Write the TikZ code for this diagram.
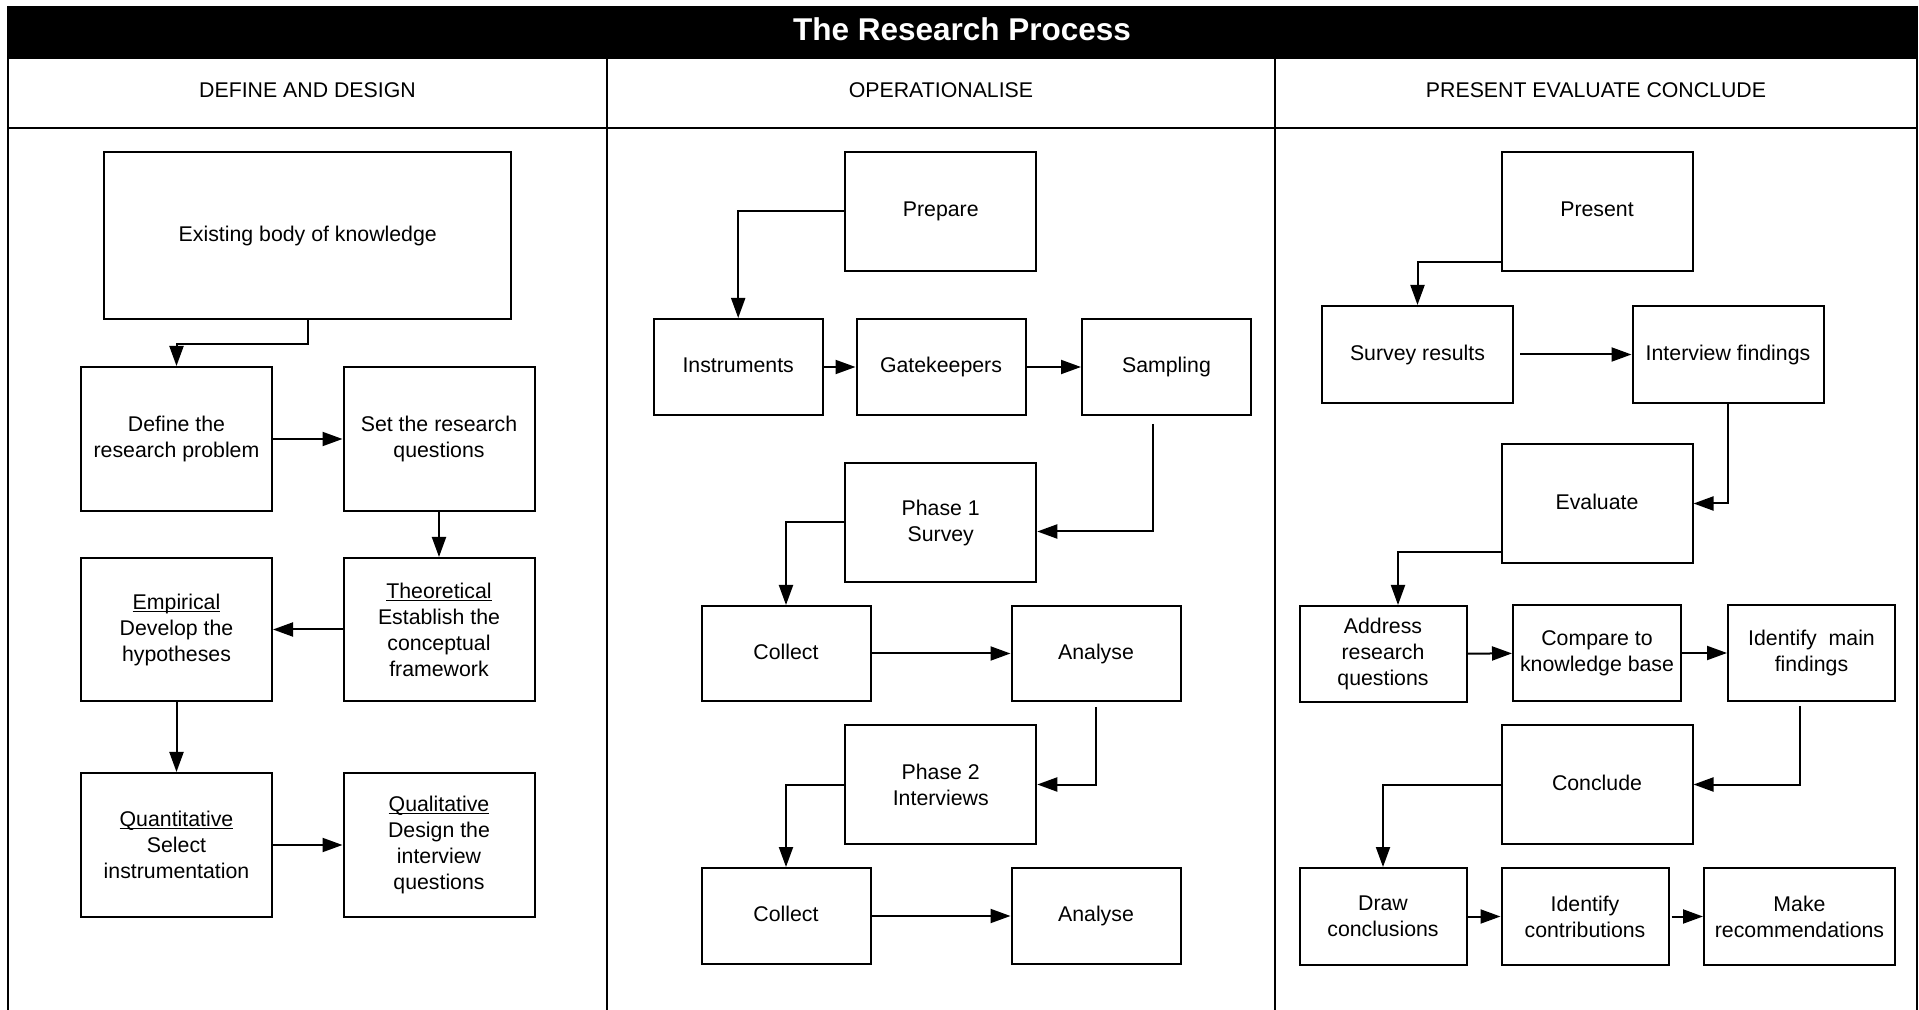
\documentclass[tikz,border=0pt]{standalone}
\usepackage{fontspec}
\setmainfont{Liberation Sans}
\usetikzlibrary{arrows.meta,calc}
\newcommand{\boxFont}[0]{\fontsize{10.65pt}{13pt}\selectfont}
\newcommand{\titleFont}[0]{\bfseries\fontsize{15.75pt}{18pt}\selectfont}
\newcommand{\uText}[1]{{\setbox0\hbox{#1}\rlap{\rule[-1.3pt]{\wd0}{0.55pt}}\box0}}
\newcommand{\gDepth}[0]{\vphantom{g}}

\begin{document}
\begin{tikzpicture}[x=0.5pt, y=-0.5pt]
  \tikzset{
    every node/.style={align=center, font=\boxFont},
    stage/.style 2 args={draw, line width=1pt, rectangle, inner sep=0pt,
      minimum width=#1*0.5pt, minimum height=#2*0.5pt},
    flow/.style={-{Triangle[length=10pt,width=7pt]}, line width=1pt}
  }
  \useasboundingbox (0,0) rectangle (1919,1010);
  \fill (8,6) rectangle (1917,59);
  \draw[line width=1pt] (8,6) -- (8,1010) (1917,6) -- (1917,1010)
    (8,128) -- (1917,128) (607,59) -- (607,1010) (1275,59) -- (1275,1010);
  \node[text=white, font=\titleFont] (title) at (962,29) {The Research Process};
  \node (head-1) at (307.5,90) {DEFINE AND DESIGN};
  \node (head-2) at (941,90) {OPERATIONALISE};
  \node (head-3) at (1596,90) {PRESENT EVALUATE CONCLUDE};

  \node[stage={407}{167}] (DD-exist) at (307.75,235.5) {Existing body of knowledge};
  \node[stage={191}{144}] (DD-define) at (176.5,439) {Define the\\research problem};
  \node[stage={191}{144}] (DD-set) at (439,439) {Set the research\\questions};
  \node[stage={191}{143}] (DD-emp) at (176.5,629.5) {\uText{Empirical}\\Develop the\\hypotheses};
  \node[stage={191}{143}] (DD-theo) at (439,629.5) {\uText{Theoretical}\\Establish the\\conceptual\\framework};
  \node[stage={191}{144}] (DD-quant) at (176.5,845) {\uText{Quantitative}\\Select\\instrumentation};
  \node[stage={191}{144}] (DD-qual) at (439,845) {\uText{Qualitative}\\Design the\\interview\\questions};

  \node[stage={191}{119}] (OP-prep) at (940.75,211.5) {Prepare};
  \node[stage={169}{96}] (OP-instr) at (738.2,367) {Instruments\gDepth};
  \node[stage={169}{96}] (OP-gate) at (941,367) {Gatekeepers};
  \node[stage={169}{96}] (OP-samp) at (1166.5,367) {Sampling};
  \node[stage={191}{119}] (OP-ph1) at (940.75,522.5) {Phase 1\\Survey};
  \node[stage={169}{95}] (OP-coll1) at (786,653.5) {Collect\gDepth};
  \node[stage={169}{95}] (OP-anal1) at (1096,653.5) {Analyse};
  \node[stage={191}{119}] (OP-ph2) at (940.75,784.5) {Phase 2\\Interviews};
  \node[stage={169}{96}] (OP-coll2) at (786,916) {Collect\gDepth};
  \node[stage={169}{96}] (OP-anal2) at (1096,916) {Analyse};

  \node[stage={191}{119}] (PE-pres) at (1597,211.5) {Present\gDepth};
  \node[stage={191}{97}] (PE-surv) at (1417.5,354.5) {Survey results};
  \node[stage={191}{97}] (PE-int) at (1728,354.5) {Interview findings};
  \node[stage={191}{119}] (PE-eval) at (1597,503.5) {Evaluate\gDepth};
  \node[stage={167}{96}] (PE-addr) at (1383,654) {Address\\research\\questions};
  \node[stage={168}{96}] (PE-comp) at (1597,653) {Compare to\\knowledge base};
  \node[stage={167}{96}] (PE-idm) at (1811.5,653) {Identify~~main\\findings};
  \node[stage={191}{119}] (PE-concl) at (1597,784.5) {Conclude\gDepth};
  \node[stage={167}{97}] (PE-draw) at (1383,916.5) {Draw\\conclusions};
  \node[stage={167}{97}] (PE-idc) at (1585,916.5) {Identify\\contributions};
  \node[stage={191}{97}] (PE-make) at (1799.5,916.5) {Make\\recommendations};

  \draw[flow] (DD-exist.south) -- ++(0,24) -| (DD-define.north);
  \draw[flow] (DD-define) -- (DD-set);
  \draw[flow] (DD-set) -- (DD-theo);
  \draw[flow] (DD-theo) -- (DD-emp);
  \draw[flow] (DD-emp) -- (DD-quant);
  \draw[flow] (DD-quant) -- (DD-qual);

  \draw[flow] (OP-prep.west) -| (OP-instr.north);
  \draw[flow] (OP-instr) -- (OP-gate);
  \draw[flow] (OP-gate) -- (OP-samp);
  \draw[flow] ($(OP-samp.south)+(-14,8)$) |- ($(OP-ph1.east)+(0,9)$);
  \draw[flow] (OP-ph1.west) -| (OP-coll1.north);
  \draw[flow] (OP-coll1) -- (OP-anal1);
  \draw[flow] ($(OP-anal1.south)+(0,5)$) |- (OP-ph2.east);
  \draw[flow] (OP-ph2.west) -| (OP-coll2.north);
  \draw[flow] (OP-coll2) -- (OP-anal2);

  \draw[flow] ($(PE-pres.south west)+(0,-10)$) -| (PE-surv.north);
  \draw[flow] ($(PE-surv.east)+(6,0)$) -- (PE-int.west);
  \draw[flow] (PE-int.south) |- (PE-eval.east);
  \draw[flow] ($(PE-eval.south west)+(0,-12)$) -| ($(PE-addr.north)+(15,0)$);
  \draw[flow] (PE-addr) -- (PE-comp);
  \draw[flow] (PE-comp) -- (PE-idm);
  \draw[flow] ($(PE-idm.south)+(-12,4)$) |- (PE-concl.east);
  \draw[flow] (PE-concl.west) -| (PE-draw.north);
  \draw[flow] (PE-draw) -- (PE-idc);
  \draw[flow] ($(PE-idc.east)+(2,0)$) -- (PE-make);
\end{tikzpicture}
\end{document}
